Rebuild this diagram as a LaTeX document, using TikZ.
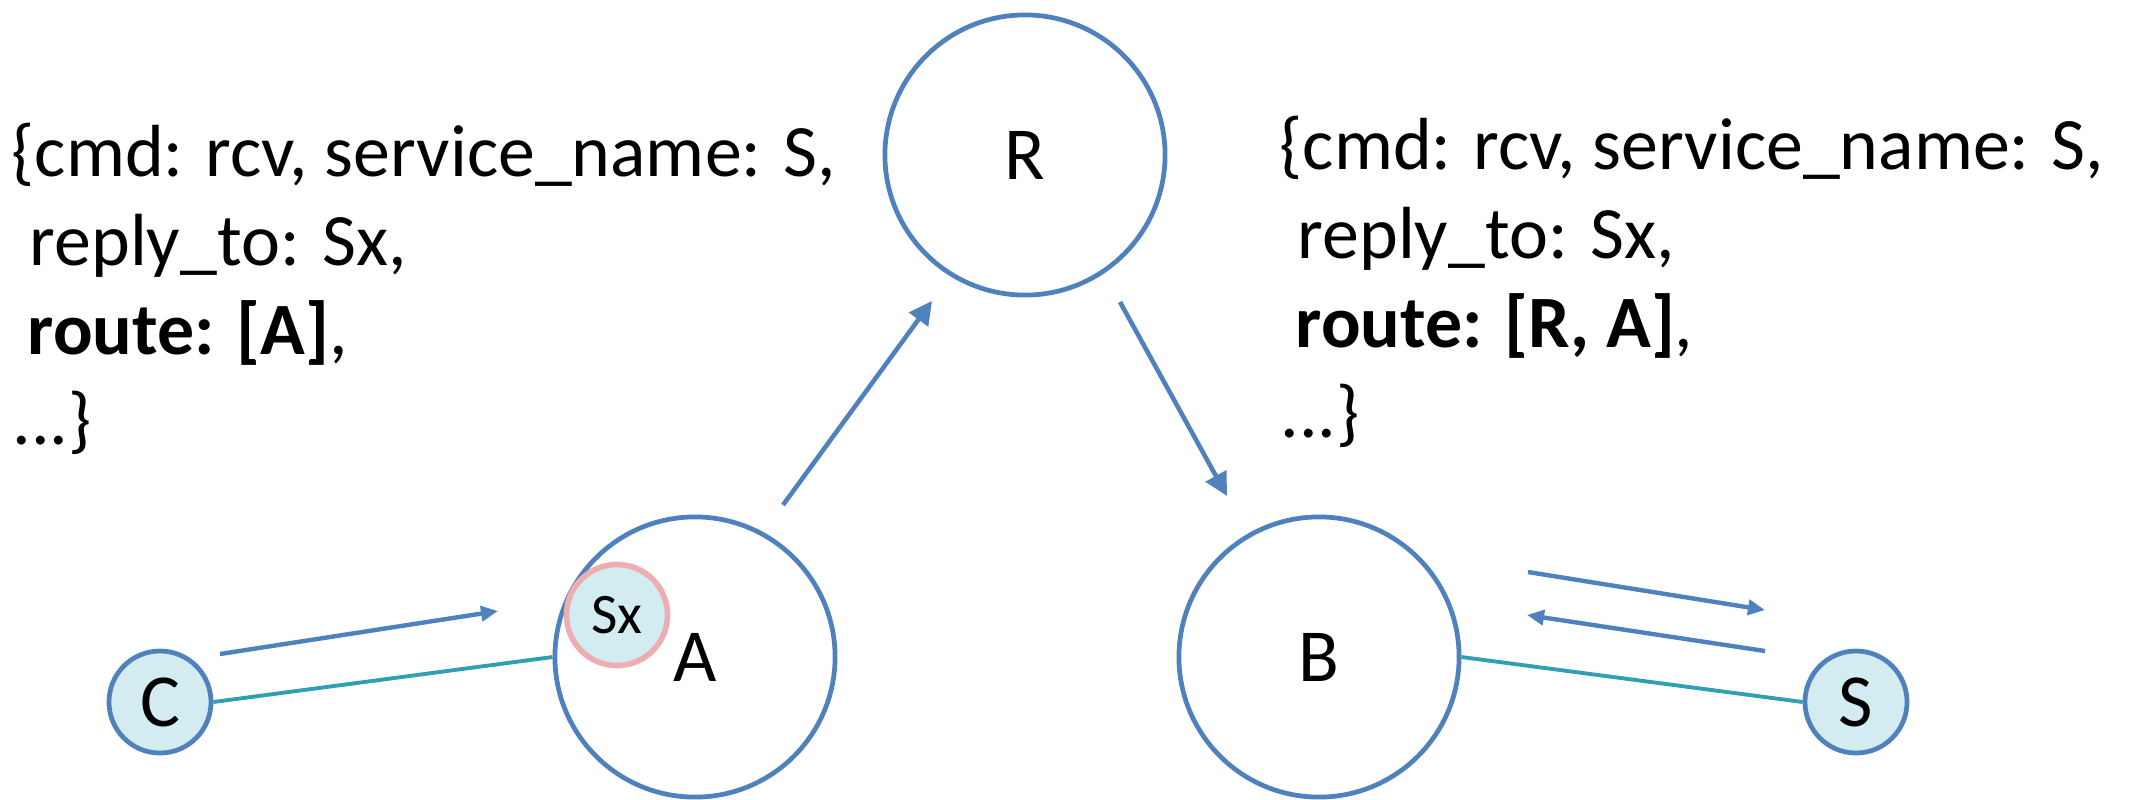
\documentclass[tikz,border=0pt]{standalone}
\usepackage{fontspec}
\setmainfont{Carlito}
\usetikzlibrary{arrows.meta}
\definecolor{nodeblue}{HTML}{4F81BD}
\definecolor{linkteal}{HTML}{2FA0B4}
\definecolor{lightfill}{HTML}{D3ECF2}
\definecolor{sxborder}{HTML}{EDAEB1}
\tikzset{
  bigc/.style={circle, draw=nodeblue, line width=1.35pt, minimum size=2.80cm, inner sep=0pt,
    font=\fontsize{21.3}{25}\selectfont},
  smallc/.style={circle, draw=nodeblue, fill=lightfill, line width=1.35pt, minimum size=1.02cm, inner sep=0pt,
    font=\fontsize{21.3}{25}\selectfont},
  sxc/.style={circle, draw=sxborder, fill=lightfill, line width=1.6pt, minimum size=1.01cm, inner sep=0pt,
    font=\fontsize{16.3}{19}\selectfont},
  msg/.style={anchor=base west, inner sep=0pt, font=\fontsize{21}{25}\selectfont},
  arrbig/.style={draw=nodeblue, line width=1.3pt, -{Triangle[length=0.23cm,width=0.23cm]}},
  arrsmall/.style={draw=nodeblue, line width=1.25pt, -{Triangle[length=0.17cm,width=0.15cm]}},
  link/.style={draw=linkteal, line width=1.1pt}
}
\begin{document}
\begin{tikzpicture}[x=0.01cm, y=-0.01cm]
\useasboundingbox (0,0) rectangle (2130,799);
% circles
\node[bigc] (R) at (1025,155) {R};
\node[bigc] (A) at (695,657) {A};
\node[bigc] (B) at (1319,657) {B};
\node[smallc] (C) at (160,702) {C};
\node[smallc] (S) at (1856,702) {S};
\node[sxc] (Sx) at (617,615) {Sx};
% links
\draw[link] (C.east) -- (A.west);
\draw[link] (B.east) -- (S.west);
% message arrows
\coordinate (ca1) at (220,654); \coordinate (ca2) at (498,611);
\coordinate (ar1) at (783,505); \coordinate (ar2) at (932,301);
\coordinate (rb1) at (1120,302); \coordinate (rb2) at (1227,496);
\coordinate (bs1) at (1528,572); \coordinate (bs2) at (1765,610);
\coordinate (sb1) at (1765,651); \coordinate (sb2) at (1527,615);
\draw[arrsmall] (ca1) -- (ca2);
\draw[arrbig] (ar1) -- (ar2);
\draw[arrbig] (rb1) -- (rb2);
\draw[arrsmall] (bs1) -- (bs2);
\draw[arrsmall] (sb1) -- (sb2);
% message texts
\node[msg] (l1) at (11,176) {\{cmd: rcv, service\_name: S,};
\node[msg] (l2) at (29,265) {reply\_to: Sx,};
\node[msg] (l3) at (27,354) {\textbf{route: [A]},};
\node[msg] (l4) at (12,444) {...\}};
\node[msg] (r1) at (1279,169) {\{cmd: rcv, service\_name: S,};
\node[msg] (r2) at (1297,258) {reply\_to: Sx,};
\node[msg] (r3) at (1295,347) {\textbf{route: [R, A]},};
\node[msg] (r4) at (1280,437) {...\}};
\end{tikzpicture}
\end{document}
